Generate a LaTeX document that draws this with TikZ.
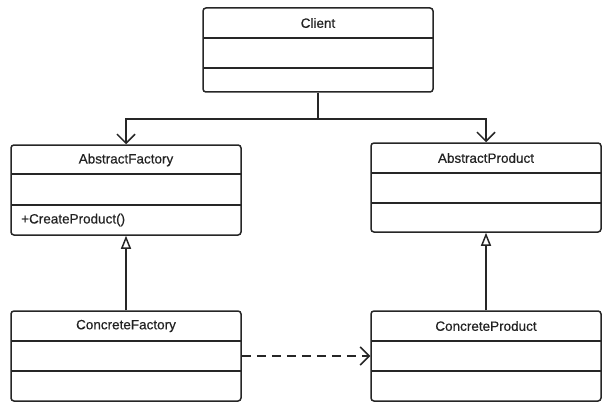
\documentclass[tikz,border=0pt]{standalone}
\usepackage{fontspec}
\setmainfont{Liberation Sans}[FakeBold=0.4]
\usetikzlibrary{arrows.meta}
\definecolor{ink}{HTML}{262626}
\definecolor{txt}{HTML}{222222}
\tikzset{
  classbox/.style={draw=ink, line width=1.5pt, rounded corners=3pt, minimum width=230pt, inner sep=0pt, fill=white},
  divider/.style={draw=ink, line width=1.5pt},
  title/.style={text=txt, font=\fontsize{13.5pt}{15pt}\selectfont, inner sep=0pt},
  member/.style={text=txt, font=\fontsize{13.5pt}{15pt}\selectfont, inner sep=0pt, anchor=west},
  assoc/.style={draw=ink, line width=1.5pt, -{Straight Barb[length=9pt,width=18pt,line width=1.5pt]}},
  gen/.style={draw=ink, line width=1.5pt, -{Triangle[open,length=13pt,width=10pt,line width=1.5pt,fill=white]}},
  dep/.style={draw=ink, line width=1.5pt, dash pattern=on 9pt off 6pt, -{Straight Barb[length=9pt,width=18pt,line width=1.5pt]}}
}
\begin{document}
\begin{tikzpicture}[x=1pt,y=-1pt]
\useasboundingbox (0,0) rectangle (616,412);
% Client
\node[classbox, minimum height=84pt] (client) at (318,50) {};
\draw[divider] (203,38) -- (433,38);
\draw[divider] (203,68) -- (433,68);
\node[title] (clientT) at (318,23) {Client};
% AbstractFactory
\node[classbox, minimum height=90pt] (af) at (126,190) {};
\draw[divider] (11,174) -- (241,174);
\draw[divider] (11,205) -- (241,205);
\node[title] (afT) at (126,160) {AbstractFactory};
\node[member] (afM) at (21,220) {+CreateProduct()};
% AbstractProduct
\node[classbox, minimum height=89pt] (ap) at (486,187.5) {};
\draw[divider] (371,173) -- (601,173);
\draw[divider] (371,203) -- (601,203);
\node[title] (apT) at (486,158) {AbstractProduct};
% ConcreteFactory
\node[classbox, minimum height=90pt] (cf) at (126,356) {};
\draw[divider] (11,341) -- (241,341);
\draw[divider] (11,371) -- (241,371);
\node[title] (cfT) at (126,326) {ConcreteFactory};
% ConcreteProduct
\node[classbox, minimum height=90pt] (cp) at (486,356) {};
\draw[divider] (371,341) -- (601,341);
\draw[divider] (371,371) -- (601,371);
\node[title] (cpT) at (486,326) {ConcreteProduct};
% connectors
\draw[assoc] (client.south) -- ++(0,26) -| (af.north);
\draw[assoc] (client.south) -- ++(0,26) -| (ap.north);
\draw[gen] (cf.north) -- (af.south);
\draw[gen] (cp.north) -- (ap.south);
\draw[dep] (cf.east) -- (cp.west);
\end{tikzpicture}
\end{document}
